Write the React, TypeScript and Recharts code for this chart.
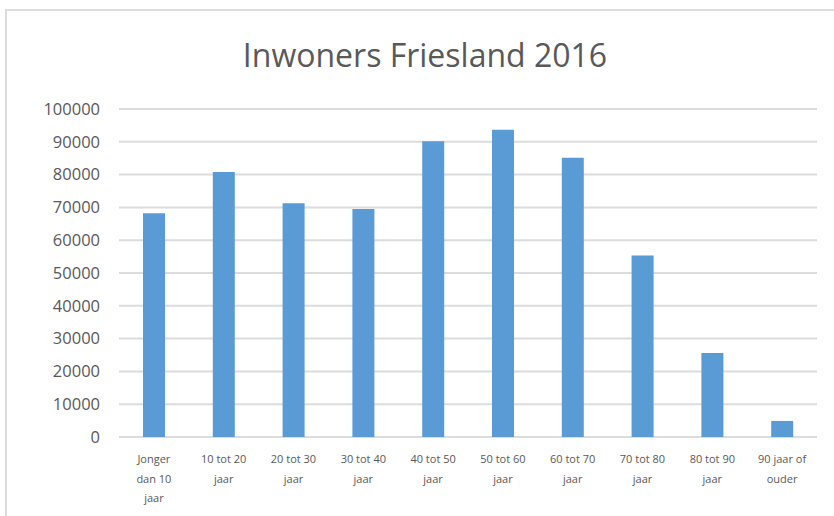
import { Bar, BarChart, CartesianGrid, XAxis, YAxis } from "recharts";

const categories = [
  "Jonger\ndan 10\njaar",
  "10 tot 20\njaar",
  "20 tot 30\njaar",
  "30 tot 40\njaar",
  "40 tot 50\njaar",
  "50 tot 60\njaar",
  "60 tot 70\njaar",
  "70 tot 80\njaar",
  "80 tot 90\njaar",
  "90 jaar of\nouder",
];
const inwoners = [68200, 80800, 71300, 69500, 90150, 93700, 85100, 55300, 25600, 4900];
const yTicks = [0, 10000, 20000, 30000, 40000, 50000, 60000, 70000, 80000, 90000, 100000];

const data = categories.map((cat, i) => ({ cat, value: inwoners[i] }));

const TEXT = "#595959";
const GRID = "#dcdcdc";
const FONT = "'Open Sans', sans-serif";

function CatTick({ x, y, payload }: { x?: number; y?: number; payload?: { value: string } }) {
  const lines = (payload?.value ?? "").split("\n");
  return (
    <text x={x} y={y} textAnchor="middle" fill={TEXT} fontSize={11} fontFamily={FONT}>
      {lines.map((l, i) => (
        <tspan key={i} x={x} dy={i === 0 ? 26 : 19.5}>
          {l}
        </tspan>
      ))}
    </text>
  );
}

export default function App() {
  return (
    <div style={{ position: "absolute", left: 0, top: 0, width: 834, height: 516, background: "#fff" }}>
      <div
        style={{
          position: "absolute",
          left: 5,
          top: 9,
          width: 829,
          height: 507,
          borderTop: `2px solid ${GRID}`,
          borderLeft: `2px solid ${GRID}`,
          boxSizing: "border-box",
        }}
      />
      <svg style={{ position: "absolute", left: 0, top: 0 }} width={834} height={90}>
        <text x={425} y={67} textAnchor="middle" fill={TEXT} fontSize={32} fontFamily={FONT}>
          Inwoners Friesland 2016
        </text>
      </svg>
      <div style={{ position: "absolute", left: 0, top: 0 }}>
        <BarChart
          width={834}
          height={516}
          data={data}
          margin={{ top: 109, right: 17, bottom: 0, left: 0 }}
          barSize={22}
        >
          <CartesianGrid vertical={false} stroke={GRID} strokeWidth={2} />
          <XAxis
            dataKey="cat"
            height={79}
            axisLine={false}
            tickLine={false}
            tickSize={0}
            tickMargin={0}
            interval={0}
            tick={<CatTick />}
          />
          <YAxis
            width={119}
            domain={[0, 100000]}
            ticks={yTicks}
            axisLine={false}
            tickLine={false}
            tickSize={0}
            tickMargin={19}
            tick={{ fill: TEXT, fontSize: 16.5, fontFamily: FONT }}
          />
          <Bar dataKey="value" fill="#5b9bd5" isAnimationActive={false} />
        </BarChart>
      </div>
    </div>
  );
}
